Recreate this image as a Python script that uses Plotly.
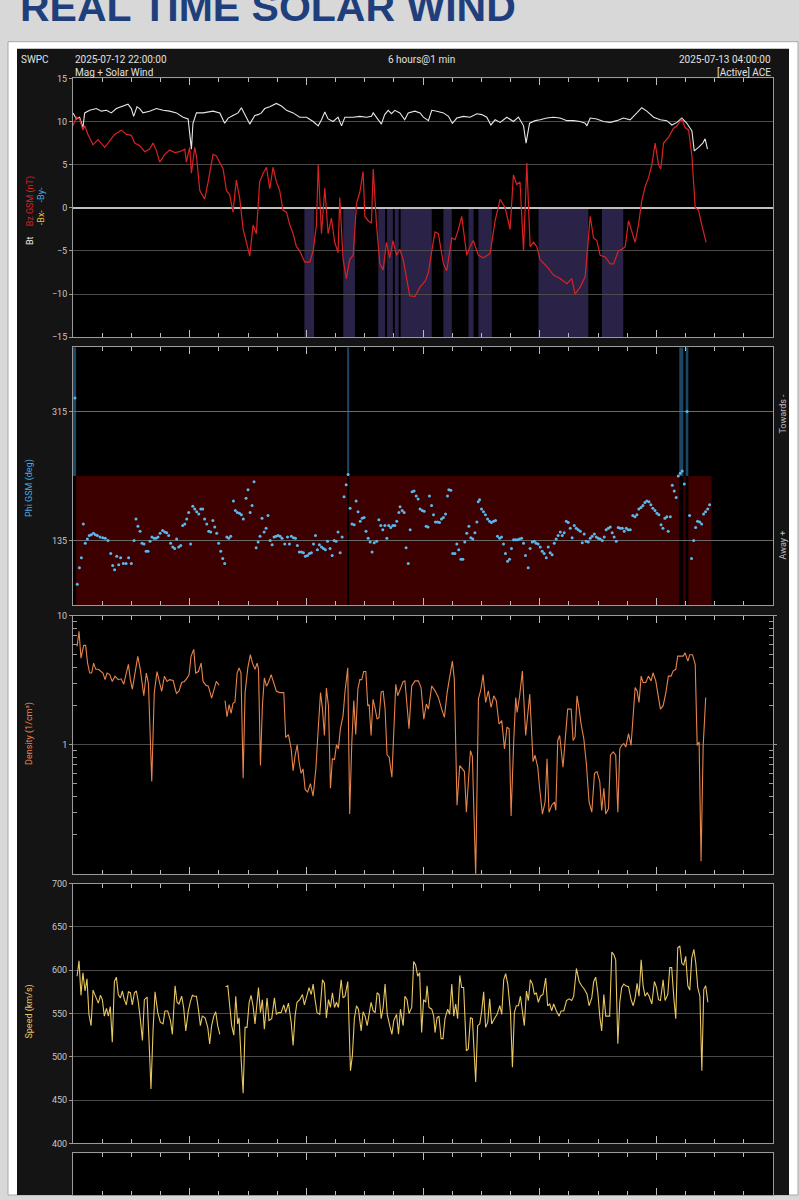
"""
SWPC real time solar wind (ACE), 2025-07-12 22:00 -> 2025-07-13 04:00.
Four stacked panels: Bt/Bz, Phi GSM, density (log) and speed.
Values are read off a screenshot; times are minutes after 22:00.
"""
import pandas as pd
import plotly.graph_objects as go

START = pd.Timestamp("2025-07-12 22:00:00")
END = pd.Timestamp("2025-07-13 04:00:00")

# --- Bt (nT), (minute, value)
BT = [(0, 11.0), (1.7, 10.3), (3.4, 10.5), (5.1, 9.3), (6.0, 11.0), (8.6, 11.3), (12.0, 11.5), (14.6, 11.2),
      (17.2, 11.3), (19.7, 11.0), (22.3, 11.5), (25.7, 11.8), (28.3, 12.0), (30.0, 11.5), (31.2, 10.6),
      (32.9, 11.7), (34.3, 11.5), (36.0, 11.0), (39.4, 11.2), (42.9, 11.5), (46.3, 11.3), (49.7, 11.2),
      (53.2, 11.0), (56.6, 10.5), (59.2, 10.3), (60.9, 6.8), (61.7, 9.8), (63.5, 11.0), (66.9, 11.0),
      (72.0, 11.2), (75.5, 11.0), (78.0, 9.8), (79.8, 10.4), (82.3, 10.7), (84.9, 11.0), (86.6, 11.6),
      (88.3, 10.8), (90.9, 9.7), (93.5, 10.7), (95.2, 10.8), (96.9, 11.0), (98.6, 11.5), (101.2, 11.7),
      (104.6, 12.1), (107.2, 11.8), (109.8, 11.3), (113.2, 11.0), (116.6, 10.5), (120.1, 10.5),
      (123.5, 10.0), (126.1, 9.5), (127.8, 10.2), (129.5, 11.1), (131.2, 10.3), (133.8, 10.0),
      (136.3, 10.5), (138.1, 9.5), (139.8, 10.5), (144.1, 10.5), (147.5, 10.6), (150.9, 10.5),
      (153.5, 10.6), (154.4, 11.0), (156.1, 10.5), (158.6, 9.7), (160.3, 10.8), (162.1, 11.3),
      (163.8, 10.9), (165.5, 11.3), (168.1, 11.0), (170.6, 10.2), (172.4, 11.0), (175.8, 11.2),
      (178.5, 11.0), (180.2, 10.5), (182.8, 10.1), (184.5, 11.3), (187.1, 11.2), (190.5, 11.0),
      (193.1, 10.6), (195.1, 9.8), (197.4, 10.4), (200.8, 10.6), (204.2, 10.5), (207.7, 10.9),
      (210.2, 10.8), (212.8, 10.5), (214.9, 9.6), (217.1, 10.2), (219.7, 9.9), (223.1, 10.5),
      (226.5, 10.0), (229.1, 10.5), (231.7, 9.5), (233.0, 7.5), (234.8, 9.8), (237.7, 10.1),
      (240.2, 10.2), (243.7, 10.4), (247.1, 10.5), (250.5, 10.4), (254.0, 10.1), (257.4, 10.1),
      (260.8, 10.0), (263.4, 9.8), (264.3, 9.5), (266.0, 10.4), (269.4, 10.3), (272.8, 10.0),
      (276.3, 9.9), (279.7, 10.1), (283.1, 10.4), (286.5, 10.2), (290.0, 11.0), (292.5, 11.6),
      (295.1, 11.2), (298.6, 10.5), (302.0, 10.2), (305.4, 10.1), (308.0, 9.6), (310.6, 9.9),
      (313.1, 10.4), (315.7, 9.8), (318.3, 8.9), (319.5, 6.6), (321.7, 7.0), (323.9, 7.5),
      (325.1, 8.0), (326.3, 6.8)]

# --- Bz GSM (nT)
BZ = [(0, 9.5), (1.7, 10.5), (3.4, 10.3), (5.1, 9.0), (6.0, 9.5), (7.7, 8.5), (10.3, 7.3), (12.9, 7.9),
      (16.3, 7.0), (18.9, 7.8), (21.4, 8.5), (24.9, 9.0), (27.4, 8.5), (30.0, 8.4), (31.7, 7.5),
      (34.3, 7.2), (36.9, 6.5), (39.4, 6.8), (41.2, 7.5), (42.9, 6.6), (44.6, 5.3), (47.2, 6.2),
      (49.7, 6.7), (52.3, 6.4), (54.9, 6.5), (57.5, 6.8), (58.3, 5.3), (60.0, 7.0), (60.9, 4.0),
      (62.6, 7.0), (63.5, 6.0), (65.2, 2.0), (67.7, 1.0), (69.5, 3.0), (72.0, 6.2), (73.7, 6.0),
      (75.5, 5.2), (77.2, 4.5), (78.9, 2.0), (80.6, 1.5), (82.3, -0.5), (84.0, 3.2), (85.8, 1.0),
      (87.5, -2.5), (89.2, -4.0), (90.9, -5.6), (92.6, -2.0), (94.3, -3.0), (96.0, 3.0), (97.8, 4.0),
      (99.5, 4.7), (101.2, 2.2), (102.9, 4.7), (104.6, 3.0), (106.3, 2.0), (108.0, -0.3),
      (109.8, -0.5), (111.5, -2.0), (113.2, -3.0), (114.9, -4.5), (116.6, -5.0), (119.2, -6.3),
      (121.8, -6.3), (123.5, -5.0), (125.2, -2.0), (126.1, 5.0), (127.8, -3.0), (129.5, 2.3),
      (131.2, -3.0), (132.9, -1.2), (134.6, -4.0), (136.3, -5.2), (137.2, 1.2), (138.9, -6.0),
      (140.6, -8.2), (142.3, -6.0), (144.1, -5.5), (145.8, 0.5), (147.5, 1.8), (149.2, 4.2),
      (150.1, -1.0), (151.8, -1.5), (153.5, -1.8), (154.4, 4.5), (156.1, -2.0), (157.8, -6.5),
      (159.5, -7.2), (161.2, -4.0), (162.9, -5.8), (164.6, -3.8), (166.4, -5.5), (168.1, -4.8),
      (169.8, -6.0), (171.5, -8.2), (173.2, -10.2), (175.8, -10.3), (178.4, -9.2), (181.1, -8.5),
      (182.8, -7.5), (184.5, -5.0), (186.2, -2.8), (187.9, -3.0), (190.5, -6.5), (192.2, -7.3),
      (194.8, -3.5), (196.5, -3.7), (198.2, -2.5), (199.9, -1.0), (202.5, -5.5), (204.2, -4.5),
      (205.9, -3.8), (208.5, -5.5), (211.1, -5.8), (214.5, -5.3), (217.1, -1.5), (219.7, 1.0),
      (222.2, 0.0), (224.8, -2.5), (226.5, 3.8), (228.2, 2.7), (229.9, 3.0), (231.7, -5.0),
      (233.4, 5.2), (235.1, -4.5), (236.8, -4.0), (238.5, -4.5), (240.2, -6.0), (243.7, -6.8),
      (247.1, -7.8), (250.5, -8.2), (254.0, -8.8), (256.5, -8.2), (258.2, -10.0), (260.8, -9.2),
      (263.4, -8.0), (266.0, -1.0), (267.7, -3.5), (269.4, -3.8), (271.1, -5.5), (273.7, -5.7),
      (276.3, -6.5), (278.0, -6.5), (280.5, -5.0), (282.3, -4.8), (284.0, -4.5), (285.7, -1.5),
      (287.4, -2.8), (289.1, -4.0), (290.8, -2.0), (292.5, 0.8), (294.3, 2.5), (296.0, 3.5),
      (297.7, 5.0), (299.4, 7.5), (301.1, 5.0), (302.3, 4.5), (303.7, 7.5), (306.3, 8.2),
      (308.8, 9.2), (310.6, 9.5), (313.1, 10.3), (314.8, 9.3), (316.6, 9.0), (318.3, 6.0),
      (320.0, 0.0), (321.7, -0.3), (323.4, -2.0), (325.6, -4.0)]

# southward (Bz < 0) shading intervals, minutes
BZ_SOUTH = [(119, 124), (139, 145), (157, 160.5), (161.5, 164.5), (165.5, 167.5), (168.5, 184.5),
            (190.5, 194.8), (203.4, 206), (208.5, 215.4), (239.4, 265), (272, 283)]

# --- Phi GSM (deg)
PHI = [(1.0, 334), (2.2, 74), (3.3, 97), (4.3, 111), (5.3, 158), (6.3, 131), (7.4, 137), (8.4, 142),
       (9.4, 143), (10.5, 145), (11.5, 143), (12.5, 142), (13.9, 140), (15.3, 139), (16.6, 138),
       (18.0, 135), (19.4, 117), (20.4, 100), (21.4, 94), (22.5, 113), (23.5, 101), (24.5, 111),
       (25.9, 103), (27.3, 103), (28.6, 111), (30.0, 103), (31.4, 135), (32.4, 165), (33.4, 155),
       (34.5, 148), (35.5, 131), (36.5, 130), (37.6, 120), (38.6, 120), (39.6, 134), (40.6, 140),
       (41.7, 138), (42.7, 138), (43.7, 140), (44.8, 145), (46.1, 149), (47.2, 147), (48.2, 146),
       (49.2, 142), (50.2, 131), (51.3, 126), (52.3, 124), (53.3, 137), (54.4, 126), (55.4, 128),
       (56.4, 156), (57.5, 158), (58.5, 165), (59.5, 174), (60.5, 130), (61.6, 183), (62.6, 179),
       (63.6, 175), (64.7, 172), (65.7, 179), (66.7, 179), (67.7, 165), (68.8, 158), (69.8, 148),
       (70.8, 147), (71.9, 163), (72.9, 154), (73.9, 145), (74.9, 131), (76.0, 120), (77.0, 110),
       (78.0, 103), (79.1, 140), (80.1, 138), (81.1, 141), (82.5, 190), (83.5, 177), (84.5, 174),
       (85.6, 173), (86.6, 171), (87.6, 165), (89.0, 194), (90.0, 206), (91.1, 174), (92.1, 184),
       (93.1, 217), (94.2, 125), (95.2, 133), (96.2, 141), (97.2, 166), (98.3, 147), (99.3, 152),
       (100.3, 170), (101.4, 135), (102.4, 129), (103.4, 140), (104.4, 141), (105.5, 142),
       (106.5, 141), (107.5, 138), (108.9, 130), (110.3, 140), (111.3, 130), (112.3, 141),
       (113.4, 139), (114.4, 138), (115.4, 128), (116.4, 119), (117.5, 119), (118.5, 118),
       (119.5, 113), (120.6, 114), (121.6, 117), (122.6, 118), (123.7, 130), (124.7, 142),
       (125.7, 122), (126.7, 129), (127.8, 126), (128.8, 124), (129.8, 122), (130.9, 134),
       (132.2, 124), (133.3, 114), (134.3, 135), (135.3, 134), (136.3, 147), (137.4, 118),
       (138.4, 140), (139.4, 196), (140.5, 213), (141.5, 227), (142.5, 180), (143.5, 158),
       (144.6, 157), (145.6, 190), (146.6, 175), (147.7, 162), (148.7, 166), (149.7, 167),
       (150.7, 148), (151.8, 138), (152.8, 133), (153.8, 119), (154.9, 132), (156.2, 134),
       (157.3, 164), (158.3, 156), (159.3, 150), (160.4, 156), (161.4, 138), (162.4, 156),
       (163.4, 153), (164.5, 156), (165.5, 156), (166.5, 162), (167.6, 174), (168.2, 182),
       (169.3, 177), (170.3, 174), (171.3, 125), (172.4, 103), (173.4, 150), (174.4, 203),
       (175.4, 204), (176.5, 197), (177.5, 193), (178.5, 179), (179.6, 177), (180.6, 176),
       (181.6, 155), (182.6, 154), (183.3, 197), (184.4, 184), (185.4, 171), (186.4, 161),
       (187.5, 161), (188.5, 160), (189.5, 165), (190.5, 167), (191.6, 172), (192.6, 197),
       (193.3, 206), (194.3, 205), (195.3, 117), (196.4, 117), (197.4, 130), (198.4, 122),
       (199.5, 109), (200.5, 109), (201.5, 133), (202.5, 145), (203.6, 155), (204.6, 139),
       (205.6, 137), (206.7, 146), (207.7, 161), (208.4, 189), (209.1, 192), (210.1, 179),
       (211.1, 175), (212.1, 171), (213.2, 165), (214.2, 162), (215.2, 160), (216.3, 162),
       (217.3, 163), (218.3, 141), (219.4, 138), (220.4, 140), (221.4, 130), (222.4, 117),
       (223.5, 106), (224.5, 109), (225.5, 124), (226.6, 136), (227.6, 136), (228.6, 136),
       (229.6, 137), (230.7, 138), (231.7, 131), (232.7, 114), (234.1, 97), (235.1, 124),
       (236.2, 133), (237.2, 134), (238.2, 131), (239.2, 130), (240.3, 126), (241.3, 120),
       (242.3, 117), (243.4, 111), (244.4, 126), (245.4, 118), (246.4, 115), (247.5, 131),
       (248.5, 137), (249.5, 142), (250.6, 147), (251.6, 142), (252.6, 146), (253.7, 162),
       (254.7, 160), (255.7, 152), (256.7, 139), (257.8, 156), (258.8, 152), (259.8, 150),
       (260.9, 148), (261.9, 132), (262.9, 144), (263.9, 134), (265.0, 133), (266.0, 138),
       (267.0, 141), (268.1, 144), (269.1, 140), (270.1, 138), (271.1, 137), (272.2, 135),
       (273.2, 140), (274.2, 150), (275.3, 152), (276.3, 154), (277.3, 146), (278.3, 140),
       (279.4, 134), (280.4, 153), (281.4, 152), (282.5, 152), (283.5, 148), (284.5, 152),
       (285.5, 150), (286.6, 150), (287.9, 170), (289.0, 168), (290.0, 171), (291.0, 179),
       (292.1, 181), (293.1, 184), (294.1, 188), (295.1, 190), (296.2, 189), (297.2, 185),
       (298.2, 180), (299.3, 177), (300.3, 173), (301.3, 171), (302.4, 157), (303.4, 152),
       (304.4, 166), (305.4, 168), (306.1, 148), (307.2, 168), (308.2, 212), (309.2, 204),
       (310.2, 195), (311.3, 225), (312.3, 229), (313.3, 232), (314.4, 214), (315.8, 315),
       (317.1, 170), (318.1, 110), (319.2, 135), (320.2, 153), (321.2, 162), (322.3, 161),
       (323.3, 158), (324.3, 172), (325.3, 175), (326.4, 179), (327.4, 185)]

# --- Density (1/cm3); None marks a data gap
DENSITY = [(2.1, 5.8), (3.1, 7.6), (4.1, 4.7), (5.5, 5.9), (6.5, 5.9), (7.5, 4.3), (8.6, 3.6), (9.6, 3.6),
           (10.6, 4.3), (11.7, 3.85), (13.0, 3.85), (14.4, 3.7), (15.4, 3.6), (16.5, 3.2), (17.5, 3.6),
           (18.9, 3.5), (20.2, 3.1), (21.6, 3.4), (23.3, 3.2), (24.7, 3.25), (26.1, 2.95), (27.4, 3.6),
           (28.5, 4.2), (29.5, 3.2), (30.5, 2.7), (31.9, 3.6), (33.3, 4.85), (34.6, 3.85), (36.4, 2.4),
           (37.7, 3.6), (38.8, 3.0), (40.5, 0.52), (41.8, 2.54), (43.2, 3.7), (44.2, 3.2), (45.6, 2.6),
           (47.0, 3.4), (48.4, 3.1), (49.7, 3.2), (51.5, 3.15), (53.2, 2.5), (54.5, 2.6), (55.9, 3.04),
           (57.3, 3.1), (58.7, 3.3), (59.7, 3.5), (60.7, 4.85), (62.1, 5.5), (63.1, 3.6), (64.5, 3.7),
           (65.9, 4.3), (66.9, 3.1), (68.3, 2.9), (69.6, 2.85), (71.3, 2.3), (72.7, 2.8), (73.7, 3.1),
           (75.1, 2.9), (76.5, None), (78.2, 2.2), (79.2, 1.65), (80.3, 2.05), (81.3, 1.75), (82.3, 2.1),
           (83.3, 2.15), (84.4, 3.6), (85.4, 3.95), (86.4, 3.6), (87.5, 0.55), (88.5, 2.54), (89.9, 3.95),
           (91.2, 5.0), (92.3, 4.3), (93.6, 3.85), (94.7, 4.3), (95.4, 3.85), (96.4, 0.69), (97.4, 2.0),
           (98.4, 3.3), (99.5, 2.85), (100.5, 3.04), (101.9, 3.5), (103.2, 3.04), (104.6, 2.6),
           (106.3, 2.54), (108.4, 2.54), (109.4, 1.14), (110.8, 1.2), (112.2, 0.93), (113.2, 0.63),
           (114.2, 0.82), (115.3, 1.0), (116.3, 0.73), (117.3, 0.6), (118.3, 0.65), (119.4, 0.45),
           (120.7, 0.43), (122.1, 0.5), (123.5, 0.4), (124.9, 0.65), (126.2, 1.4), (127.3, 2.54),
           (128.3, 1.9), (129.3, 1.18), (130.3, 2.75), (131.4, 2.0), (132.4, 0.46), (133.4, 0.78),
           (134.5, 0.77), (135.5, 1.0), (136.5, 0.93), (137.5, 1.33), (138.9, 1.68), (139.9, 2.6),
           (141.3, 3.95), (142.3, 0.29), (143.4, 1.05), (144.4, 2.2), (145.4, 1.2), (146.5, 2.7),
           (147.5, 3.2), (148.5, 3.2), (149.5, 3.7), (150.6, 3.7), (151.6, 2.0), (152.3, 2.05),
           (153.3, 1.18), (154.3, 2.25), (155.4, 1.9), (156.4, 1.58), (157.4, 1.63), (158.5, 2.57),
           (159.5, 2.6), (160.5, 1.9), (161.5, 0.84), (162.6, 0.8), (164.0, 0.56), (165.0, 1.24),
           (166.0, 2.95), (167.0, 2.4), (168.4, 2.7), (169.8, 3.1), (170.7, 3.13), (172.8, 1.33),
           (174.2, 2.86), (175.9, 3.13), (177.6, 3.13), (179.0, 2.78), (180.4, 1.58), (181.7, 2.07),
           (182.8, 1.89), (184.5, 2.86), (186.2, 2.62), (187.9, 2.33), (189.6, 1.89), (191.0, 1.63),
           (192.4, 2.54), (193.7, 3.32), (195.1, 4.46), (196.1, 3.22), (197.5, 0.34), (198.9, 0.69),
           (200.2, 0.65), (201.3, 0.62), (202.3, 0.30), (203.3, 0.49), (204.4, 0.90), (205.4, 0.81),
           (207.1, 0.095), (208.5, 2.26), (209.8, 2.70), (210.9, 3.5), (212.2, 2.13), (213.6, 2.62),
           (215.0, 1.95), (216.4, 2.40), (217.7, 2.20), (219.1, 1.45), (220.5, 1.54), (221.9, 0.93),
           (223.2, 1.37), (224.3, 1.33), (225.3, 0.28), (226.7, 1.11), (227.7, 2.33), (228.4, 1.78),
           (229.7, 2.40), (231.1, 3.73), (232.8, 1.18), (234.9, 2.47), (236.6, 0.74), (237.6, 0.83),
           (239.0, 0.67), (240.0, 0.46), (241.4, 0.29), (242.8, 0.36), (243.8, 0.78), (244.8, 0.30),
           (246.2, 0.34), (247.6, 0.36), (248.3, 0.31), (249.3, 1.08), (250.3, 1.18), (252.0, 0.67),
           (253.1, 1.11), (254.4, 1.89), (256.2, 1.89), (257.2, 1.08), (258.2, 1.15), (259.2, 2.40),
           (260.3, 1.89), (261.3, 1.45), (262.7, 1.11), (264.0, 0.72), (265.4, 0.36), (266.8, 0.30),
           (268.2, 0.60), (269.5, 0.62), (270.9, 0.52), (271.9, 0.31), (273.0, 0.46), (274.0, 0.29),
           (275.4, 0.32), (276.4, 0.83), (277.8, 0.88), (279.1, 0.83), (280.2, 0.30), (281.2, 0.93),
           (282.2, 0.99), (283.3, 1.02), (284.3, 0.96), (285.7, 1.22), (287.0, 0.99), (288.1, 1.68),
           (289.1, 2.78), (290.1, 2.62), (291.1, 2.13), (292.2, 3.41), (293.2, 3.04), (294.6, 3.04),
           (295.9, 3.41), (297.3, 3.13), (298.3, 3.62), (299.7, 3.13), (301.1, 2.26), (302.1, 1.89),
           (303.5, 2.01), (304.9, 2.54), (306.2, 3.41), (307.6, 3.41), (308.6, 3.73), (310.0, 3.85),
           (311.0, 4.87), (312.4, 4.87), (313.8, 4.87), (314.8, 5.16), (316.2, 4.46), (317.2, 5.0),
           (318.6, 5.0), (320.0, 4.2), (321.0, 0.99), (322.0, 1.05), (323.0, 0.125), (324.1, 0.99),
           (325.4, 2.33)]

# --- Speed (km/s)
SPEED = [(2.1, 593), (3.1, 611), (4.1, 571), (5.1, 597), (6.2, 576), (7.2, 590), (8.2, 549), (9.3, 536),
         (10.3, 577), (11.7, 570), (13.0, 562), (14.1, 571), (15.1, 566), (16.1, 547), (17.2, 556),
         (18.2, 547), (19.2, 558), (20.2, 517), (21.3, 587), (22.3, 592), (23.3, 572), (24.4, 568),
         (25.4, 576), (26.4, 566), (27.4, 560), (28.5, 575), (29.5, 574), (30.5, 560), (31.6, 574),
         (32.6, 576), (33.6, 563), (34.6, 544), (35.7, 519), (36.7, 566), (38.1, 569), (39.1, 519),
         (40.1, 463), (41.2, 532), (42.2, 575), (43.6, 551), (44.9, 540), (46.3, 538), (47.3, 553),
         (48.7, 553), (50.1, 542), (51.1, 526), (52.5, 582), (53.5, 563), (54.5, 561), (55.9, 570),
         (56.9, 557), (58.0, 530), (59.3, 553), (60.4, 564), (61.4, 571), (62.4, 570), (63.5, 570),
         (64.5, 555), (65.5, 536), (66.5, 547), (67.9, 545), (69.3, 534), (70.3, 515), (71.3, 536),
         (72.4, 547), (73.4, 552), (74.4, 536), (75.5, 526), (76.5, None), (78.5, 581), (79.6, 582),
         (80.6, 559), (81.6, 536), (82.7, 525), (83.7, 570), (84.7, 538), (85.4, 545), (86.4, 500),
         (87.5, 458), (88.5, 534), (89.5, 534), (90.6, 563), (91.6, 571), (92.6, 559), (93.6, 538),
         (95.4, 580), (96.4, 551), (97.4, 566), (98.4, 532), (99.8, 568), (100.8, 542), (102.2, 544),
         (103.6, 568), (104.6, 549), (105.6, 551), (107.0, 551), (108.4, 560), (109.4, 551),
         (110.8, 562), (112.2, 540), (113.2, 513), (114.2, 547), (115.2, 563), (116.6, 566),
         (118.0, 572), (119.0, 560), (120.4, 570), (121.4, 580), (122.5, 572), (123.5, 584),
         (124.5, 566), (125.5, 551), (126.9, 549), (128.3, 589), (129.3, 585), (130.3, 545),
         (131.4, 566), (132.4, 557), (133.4, 574), (134.5, 557), (135.5, 563), (136.5, 557),
         (137.9, 589), (138.9, 568), (139.9, 570), (141.3, 587), (142.7, 484), (143.7, 502),
         (144.7, 544), (145.8, 559), (146.8, 555), (148.2, 530), (149.2, 552), (150.2, 547),
         (151.3, 536), (152.3, 551), (153.3, 563), (154.4, 553), (155.4, 551), (156.4, 574),
         (157.4, 572), (158.5, 544), (159.5, 557), (160.5, 584), (161.6, 549), (162.9, 536),
         (164.0, 526), (165.0, 542), (166.4, 549), (167.4, 526), (168.4, 555), (169.8, 536),
         (170.7, 570), (171.8, 566), (172.8, 550), (174.2, 557), (175.2, 610), (176.2, 606),
         (177.3, 593), (178.3, 597), (179.3, 528), (180.3, 566), (181.4, 563), (182.1, 582),
         (183.1, 557), (184.5, 555), (185.5, 547), (186.2, 528), (187.2, 545), (188.2, 547),
         (189.3, 521), (190.3, 521), (191.3, 544), (192.7, 555), (193.7, 549), (194.8, 584),
         (195.8, 547), (196.8, 561), (197.8, 544), (198.9, 594), (199.9, 580), (200.9, 580),
         (202.3, 507), (203.3, 509), (204.4, 545), (205.4, 544), (206.4, 509), (207.1, 471),
         (208.1, 536), (209.2, 538), (210.2, 553), (211.2, 575), (212.2, 534), (213.3, 540),
         (214.3, 567), (215.3, 538), (216.7, 544), (218.1, 549), (219.5, 559), (220.5, 549),
         (221.5, 589), (222.5, 596), (223.6, 584), (225.0, 551), (226.0, 488), (227.0, 551),
         (228.0, 559), (229.1, 559), (230.1, 570), (231.1, 549), (232.1, 536), (233.2, 576),
         (234.2, 565), (235.2, 589), (236.3, 584), (237.3, 572), (238.3, 574), (239.3, 563),
         (240.4, 570), (241.7, 572), (243.1, 591), (244.1, 559), (245.2, 561), (246.2, 553),
         (247.2, 561), (248.6, 553), (250.0, 547), (251.0, 553), (252.4, 553), (253.8, 565),
         (255.1, 567), (256.5, 565), (257.5, 570), (258.9, 602), (260.3, 587), (261.6, 582),
         (263.0, 578), (264.4, 572), (265.4, 559), (266.8, 568), (267.8, 587), (268.8, 592),
         (269.9, 574), (270.9, 547), (271.9, 530), (273.0, 572), (274.0, 547), (276.0, 547),
         (277.1, 621), (278.1, 618), (279.1, 612), (280.2, 515), (281.2, 563), (282.2, 580),
         (283.3, 584), (284.3, 582), (285.7, 581), (287.0, 566), (288.1, 559), (289.1, 568),
         (290.1, 585), (291.1, 570), (292.2, 612), (293.2, 582), (294.2, 570), (295.3, 574),
         (296.3, 570), (297.7, 561), (299.0, 587), (300.1, 580), (301.1, 566), (302.1, 565),
         (303.5, 589), (304.5, 565), (305.9, 572), (306.9, 603), (307.9, 603), (309.0, 568),
         (310.0, 544), (311.0, 626), (312.1, 628), (313.1, 608), (314.1, 606), (315.1, 616),
         (316.2, 582), (317.2, 577), (318.2, 614), (319.3, 624), (320.3, 608), (321.3, 580),
         (322.4, 570), (323.4, 484), (324.4, 578), (325.4, 582), (326.5, 563)]

BZ_TICKS = [15, 10, 5, 0, -5, -10, -15]
PHI_TICKS = [315, 135]
DENS_TICKS = [10, 1]
DENS_MINOR = [0.2, 0.3, 0.4, 0.5, 0.6, 0.7, 0.8, 0.9, 2, 3, 4, 5, 6, 7, 8, 9]
SPEED_TICKS = [700, 650, 600, 550, 500, 450, 400]

W, H = 799, 1200
PLOT_X0, PLOT_X1 = 73, 773
PANELS = [(74, 335), (345, 605), (616, 876), (886, 1148), (1158, 1240)]
TICK_FONT = dict(family="Roboto, sans-serif", size=9, color="#c8c8c8")


def to_time(minutes):
    return [START + pd.Timedelta(minutes=m) for m in minutes]


def split(pairs):
    m, v = zip(*pairs)
    return to_time(m), list(v)


def px_x(p):
    return p / W


def px_y(p):
    return 1 - p / H


fig = go.Figure()

# page furniture: grey page, white card, dark chart area, black plot areas
fig.add_shape(type="rect", xref="paper", yref="paper", x0=px_x(8), x1=px_x(798), y0=px_y(1200), y1=px_y(37),
              fillcolor="white", line=dict(color="#a8a8a8", width=1), layer="below")
fig.add_shape(type="rect", xref="paper", yref="paper", x0=px_x(17), x1=px_x(789), y0=px_y(1200), y1=px_y(44),
              fillcolor="#141414", line_width=0, layer="below")
for top, bot in PANELS:
    fig.add_shape(type="rect", xref="paper", yref="paper", x0=px_x(PLOT_X0), x1=px_x(PLOT_X1),
                  y0=max(px_y(bot), 0), y1=px_y(top), fillcolor="black", line_width=0, layer="below")

# Bz southward shading
for a, b in BZ_SOUTH:
    fig.add_shape(type="rect", xref="x", yref="y", x0=START + pd.Timedelta(minutes=a),
                  x1=START + pd.Timedelta(minutes=b), y0=-15, y1=0,
                  fillcolor="rgba(70,56,118,0.6)", line_width=0, layer="below")

# Phi sector background (away = dark red 45-225, towards = blue 225-405),
# consecutive samples in the same sector merged into one block
phi_min = [m for m, _ in PHI]
phi_val = [v for _, v in PHI]
runs = []
for i, (m, v) in enumerate(PHI):
    towards = v > 225
    left = (m + phi_min[i - 1]) / 2 if i > 0 else m - 1
    right = (m + phi_min[i + 1]) / 2 if i + 1 < len(PHI) else m + 1
    if runs and runs[-1][2] == towards:
        runs[-1][1] = right
    else:
        runs.append([left, right, towards])
for a, b, towards in runs:
    fig.add_shape(type="rect", xref="x2", yref="y2", x0=START + pd.Timedelta(minutes=a),
                  x1=START + pd.Timedelta(minutes=b),
                  y0=225 if towards else 45, y1=405 if towards else 225,
                  fillcolor="#1b4764" if towards else "#3c0000", line_width=0, layer="below")

t, v = split(BT)
fig.add_trace(go.Scatter(x=t, y=v, mode="lines", line=dict(color="#e6e6e6", width=1.1),
                         xaxis="x", yaxis="y", showlegend=False))
t, v = split(BZ)
fig.add_trace(go.Scatter(x=t, y=v, mode="lines", line=dict(color="#d92222", width=1.2),
                         xaxis="x", yaxis="y", showlegend=False))
fig.add_trace(go.Scatter(x=to_time(phi_min), y=phi_val, mode="markers",
                         marker=dict(color="#5ab8ec", size=3), xaxis="x2", yaxis="y2", showlegend=False))
t, v = split(DENSITY)
fig.add_trace(go.Scatter(x=t, y=v, mode="lines", line=dict(color="#e8834a", width=1.1),
                         xaxis="x3", yaxis="y3", showlegend=False, connectgaps=False))
t, v = split(SPEED)
fig.add_trace(go.Scatter(x=t, y=v, mode="lines", line=dict(color="#e8c660", width=1.1),
                         xaxis="x4", yaxis="y4", showlegend=False, connectgaps=False))
# empty fifth panel (cut off at the bottom of the screenshot)
fig.add_trace(go.Scatter(x=[START], y=[None], xaxis="x5", yaxis="y5", showlegend=False))

xaxis_common = dict(
    domain=[px_x(PLOT_X0), px_x(PLOT_X1)], range=[START, END], type="date",
    showticklabels=False, showgrid=False, zeroline=False,
    showline=True, linecolor="#9a9a9a", linewidth=1, mirror="ticks",
    ticks="inside", ticklen=7, tickcolor="#bbbbbb", dtick=3600000, tick0=START,
    minor=dict(ticks="inside", ticklen=4, tickcolor="#bbbbbb", dtick=900000, showgrid=False),
)
yaxis_common = dict(
    showline=True, linecolor="#9a9a9a", linewidth=1, mirror=True,
    ticks="outside", ticklen=3, tickcolor="#9a9a9a", tickfont=TICK_FONT,
    showgrid=True, gridcolor="#4a4a4a", gridwidth=1, zeroline=False, fixedrange=True,
)

layout_axes = {}
for i, (top, bot) in enumerate(PANELS, start=1):
    key = "" if i == 1 else str(i)
    layout_axes[f"xaxis{key}"] = dict(xaxis_common, anchor=f"y{key}")
    layout_axes[f"yaxis{key}"] = dict(yaxis_common, anchor=f"x{key}",
                                      domain=[max(px_y(bot), 0), px_y(top)])

layout_axes["yaxis"].update(range=[-15, 15], tickvals=BZ_TICKS, zeroline=True,
                            zerolinecolor="#c0c0c0", zerolinewidth=1.5)
layout_axes["yaxis2"].update(range=[45, 405], tickvals=PHI_TICKS, gridcolor="#6a6a6a")
layout_axes["yaxis3"].update(type="log", range=[-1, 1], tickvals=DENS_TICKS, mirror="ticks",
                             minor=dict(tickvals=DENS_MINOR, ticks="inside", ticklen=4,
                                        tickcolor="#9a9a9a", showgrid=False))
layout_axes["yaxis4"].update(range=[400, 700], tickvals=SPEED_TICKS)
layout_axes["yaxis5"].update(range=[0, 1], showticklabels=False, showgrid=False, ticks="")

fig.update_layout(width=W, height=H, margin=dict(l=0, r=0, t=0, b=0),
                  paper_bgcolor="#d8d8d8", plot_bgcolor="rgba(0,0,0,0)", **layout_axes)

# header texts
txt = dict(xref="paper", yref="paper", showarrow=False, font=dict(family="Roboto, sans-serif", size=10, color="#e0e0e0"))
fig.add_annotation(text="<b>REAL TIME SOLAR WIND</b>", x=px_x(18), y=px_y(27), xanchor="left", yanchor="bottom",
                   xref="paper", yref="paper", showarrow=False,
                   font=dict(family="Liberation Sans, Arial, sans-serif", size=41, color="#1f3f7c"))
fig.add_annotation(text="SWPC", x=px_x(19), y=px_y(55), xanchor="left", yanchor="middle", **txt)
fig.add_annotation(text="2025-07-12 22:00:00", x=px_x(73), y=px_y(55), xanchor="left", yanchor="middle", **txt)
fig.add_annotation(text="Mag + Solar Wind", x=px_x(73), y=px_y(68), xanchor="left", yanchor="middle", **txt)
fig.add_annotation(text="6 hours@1 min", x=px_x(422), y=px_y(55), xanchor="center", yanchor="middle", **txt)
fig.add_annotation(text="2025-07-13 04:00:00", x=px_x(773), y=px_y(55), xanchor="right", yanchor="middle", **txt)
fig.add_annotation(text="[Active] ACE", x=px_x(773), y=px_y(68), xanchor="right", yanchor="middle", **txt)


# rotated axis labels
def vlabel(text, x, y, color, angle=-90):
    fig.add_annotation(text=text, x=px_x(x), y=px_y(y), xref="paper", yref="paper", showarrow=False,
                       textangle=angle, xanchor="center", yanchor="middle",
                       font=dict(family="Roboto, sans-serif", size=9, color=color))


vlabel("Bz GSM (nT)", 30, 198, "#d92222")
vlabel("Bt", 30, 238, "#f0f0f0")
vlabel("-By-", 41, 192, "#4aa8e0")
vlabel("-Bx-", 41, 214, "#e8c23a")
vlabel("Phi GSM (deg)", 30, 487, "#4aa8e0")
vlabel("Density (1/cm³)", 30, 735, "#e8834a")
vlabel("Speed (km/s)", 30, 1015, "#e8c660")
vlabel("Towards -", 783, 412, "#bdbdbd")
vlabel("Away +", 783, 545, "#bdbdbd")

# the page is photographed at exactly the figure size, so drop the body margin
fig.write_html("out.html", config={"displayModeBar": False},
               post_script="document.body.style.margin='0';")
